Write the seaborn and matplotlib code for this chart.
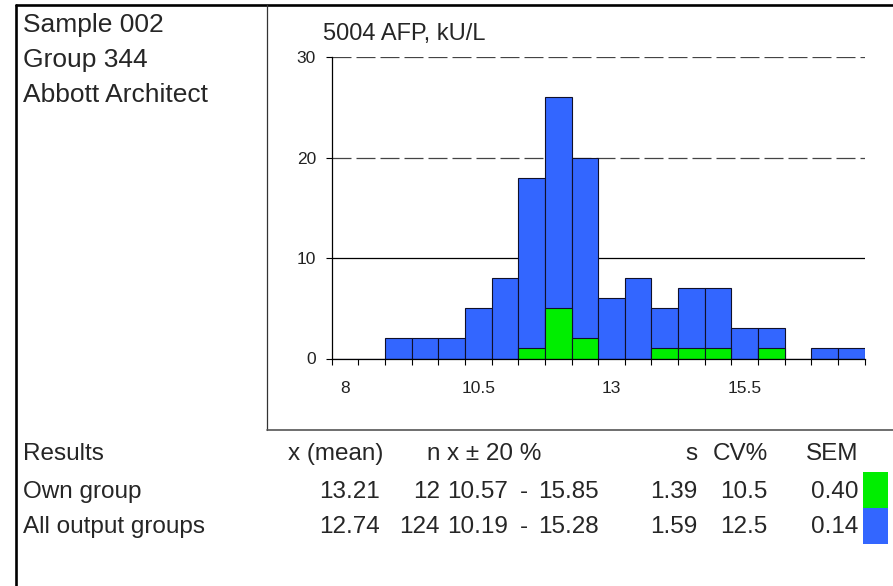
import numpy as np
import matplotlib
matplotlib.use("Agg")
import matplotlib.pyplot as plt
from matplotlib.lines import Line2D
from matplotlib.patches import Rectangle
import seaborn as sns

# ---------------- data ----------------
bin_centers = [8.0, 8.5, 9.0, 9.5, 10.0, 10.5, 11.0, 11.5, 12.0, 12.5,
               13.0, 13.5, 14.0, 14.5, 15.0, 15.5, 16.0, 16.5, 17.0, 17.5]
all_counts = [0, 0, 2, 2, 2, 5, 8, 18, 26, 20, 6, 8, 5, 7, 7, 3, 3, 0, 1, 1]
own_counts = [0, 0, 0, 0, 0, 0, 0, 1, 5, 2, 0, 0, 1, 1, 1, 0, 1, 0, 0, 0]
bin_width = 0.5
x_tick_values = [8, 10.5, 13, 15.5]
x_tick_labels = ["8", "10.5", "13", "15.5"]
y_tick_values = [0, 10, 20, 30]
y_tick_labels = ["0", "10", "20", "30"]

title = "5004 AFP, kU/L"
info_lines = ["Sample 002", "Group 344", "Abbott Architect"]

table_header = ["Results", "x (mean)", "n", "x \u00b1 20 %", "s", "CV%", "SEM"]
row_names = ["Own group", "All output groups"]
row_mean = ["13.21", "12.74"]
row_n = ["12", "124"]
row_range_low = ["10.57", "10.19"]
row_range_high = ["15.85", "15.28"]
row_s = ["1.39", "1.59"]
row_cv = ["10.5", "12.5"]
row_sem = ["0.40", "0.14"]

BLUE = "#3366FF"
GREEN = "#00EE00"
EDGE = "#10102a"

# ---------------- style ----------------
sns.set_style("white")
plt.rcParams['font.family'] = ['Liberation Sans', 'DejaVu Sans']

W, H = 893, 586
fig = plt.figure(figsize=(W / 100, H / 100), dpi=100)
fig.patch.set_facecolor("white")


def fx(x):
    return x / W


def fy(y):
    return 1 - y / H


# frame lines
fig.add_artist(Line2D([fx(16), fx(893)], [fy(5), fy(5)], color="black", lw=1.9, transform=fig.transFigure))
fig.add_artist(Line2D([fx(16), fx(16)], [fy(5), fy(586)], color="black", lw=1.9, transform=fig.transFigure))
fig.add_artist(Line2D([fx(267), fx(267)], [fy(5), fy(430)], color="#333333", lw=0.9, transform=fig.transFigure))
fig.add_artist(Line2D([fx(267), fx(893)], [fy(430), fy(430)], color="#555555", lw=1.2, transform=fig.transFigure))

# ---------------- histogram axes ----------------
left, right, top, bottom = 331.8, 864.6, 57.0, 358.5
ax = fig.add_axes([fx(left), fy(bottom), (right - left) / W, (bottom - top) / H])

lo = bin_centers[0] - bin_width / 2
hi = bin_centers[-1] + bin_width / 2
edges = [c - bin_width / 2 for c in bin_centers] + [hi]

# gridlines (behind bars)
ax.axhline(10, color="black", lw=0.9, zorder=0.5)
for yv in (20, 30):
    ax.axhline(yv, color="#444444", lw=0.9, zorder=0.5, dashes=(15.2, 4.0))

sns.histplot(x=bin_centers, weights=all_counts, binwidth=bin_width, binrange=(lo, hi),
             color=BLUE, edgecolor=EDGE, linewidth=0.8, alpha=1, ax=ax, zorder=2)
sns.histplot(x=bin_centers, weights=own_counts, binwidth=bin_width, binrange=(lo, hi),
             color=GREEN, edgecolor=EDGE, linewidth=0.8, alpha=1, ax=ax, zorder=3)

ax.set_xlim(lo, hi)
ax.set_ylim(0, 30)
ax.set_xlabel("")
ax.set_ylabel("")

for s in ("top", "right"):
    ax.spines[s].set_visible(False)
for s in ("left", "bottom"):
    ax.spines[s].set_color("black")
    ax.spines[s].set_linewidth(0.9)
    ax.spines[s].set_zorder(4)

ax.set_xticks(x_tick_values)
ax.set_xticklabels(x_tick_labels)
ax.set_xticks(edges, minor=True)
ax.set_yticks(y_tick_values)
ax.set_yticklabels(y_tick_labels)
ax.tick_params(axis="x", which="major", length=0, pad=16, labelsize=12.5, labelcolor="#222222")
ax.tick_params(axis="x", which="minor", length=4.3, width=0.8, direction="out", color="black", bottom=True)
ax.tick_params(axis="y", which="major", length=4.3, width=0.8, direction="out", color="black",
               pad=7.0, labelsize=12.5, labelcolor="#222222", left=True)
ax.set_facecolor("white")

# title
fig.text(fx(323), fy(40), title, fontsize=17, va="baseline", ha="left")

# info text
for i, t in enumerate(info_lines):
    fig.text(fx(23), fy(32 + 35 * i), t, fontsize=19, va="baseline", ha="left")

# ---------------- results table ----------------
TS = 17.5
hy = 460
fig.text(fx(23), fy(hy), table_header[0], fontsize=TS, va="baseline", ha="left")
fig.text(fx(383), fy(hy), table_header[1], fontsize=TS, va="baseline", ha="right")
fig.text(fx(440), fy(hy), table_header[2], fontsize=TS, va="baseline", ha="right")
fig.text(fx(447), fy(hy), table_header[3], fontsize=TS, va="baseline", ha="left")
fig.text(fx(697), fy(hy), table_header[4], fontsize=TS, va="baseline", ha="right")
fig.text(fx(768), fy(hy), table_header[5], fontsize=TS, va="baseline", ha="right")
fig.text(fx(858), fy(hy), table_header[6], fontsize=TS, va="baseline", ha="right")

row_y = [498, 533]
for i in range(len(row_names)):
    y = fy(row_y[i])
    fig.text(fx(23), y, row_names[i], fontsize=TS, va="baseline", ha="left")
    fig.text(fx(380), y, row_mean[i], fontsize=TS, va="baseline", ha="right")
    fig.text(fx(440), y, row_n[i], fontsize=TS, va="baseline", ha="right")
    fig.text(fx(447), y, row_range_low[i], fontsize=TS, va="baseline", ha="left")
    fig.text(fx(524), y, "-", fontsize=TS, va="baseline", ha="center")
    fig.text(fx(538), y, row_range_high[i], fontsize=TS, va="baseline", ha="left")
    fig.text(fx(697), y, row_s[i], fontsize=TS, va="baseline", ha="right")
    fig.text(fx(767), y, row_cv[i], fontsize=TS, va="baseline", ha="right")
    fig.text(fx(858), y, row_sem[i], fontsize=TS, va="baseline", ha="right")

# colour swatches
fig.add_artist(Rectangle((fx(863), fy(508)), (888 - 863) / W, 36 / H, facecolor=GREEN,
                         edgecolor="none", transform=fig.transFigure))
fig.add_artist(Rectangle((fx(863), fy(544)), (888 - 863) / W, 36 / H, facecolor=BLUE,
                         edgecolor="none", transform=fig.transFigure))

fig.savefig("out.png", dpi=100, facecolor="white")
